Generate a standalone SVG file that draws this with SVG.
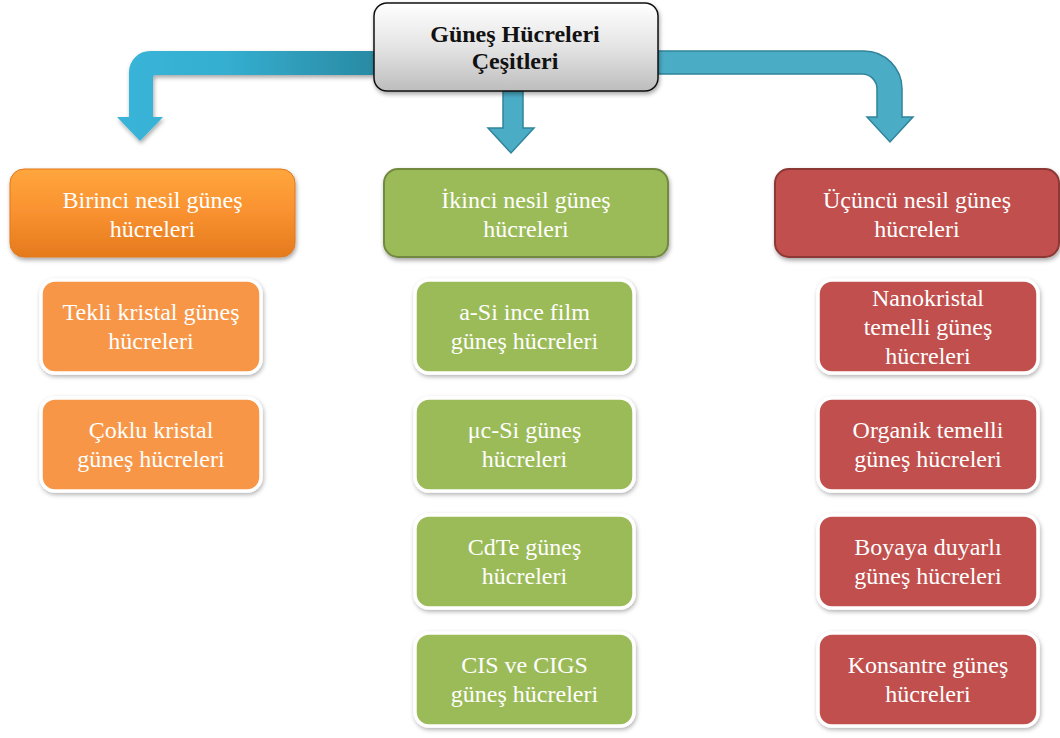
<svg xmlns="http://www.w3.org/2000/svg" width="1060" height="738" viewBox="0 0 1060 738">
<defs>
<linearGradient id="gTop" x1="0" y1="0" x2="0" y2="1">
<stop offset="0" stop-color="#ffffff"/>
<stop offset="0.5" stop-color="#e4e4e4"/>
<stop offset="1" stop-color="#bdbdbd"/>
</linearGradient>
<linearGradient id="gOrange" x1="0" y1="0" x2="0" y2="1">
<stop offset="0" stop-color="#ffa63c"/>
<stop offset="0.5" stop-color="#f99130"/>
<stop offset="1" stop-color="#e47a1c"/>
</linearGradient>
<linearGradient id="gLeft" x1="129" y1="0" x2="374" y2="0" gradientUnits="userSpaceOnUse">
<stop offset="0" stop-color="#38b4d8"/>
<stop offset="0.4" stop-color="#34aed0"/>
<stop offset="1" stop-color="#2a8aa3"/>
</linearGradient>
<filter id="sh" x="-10%" y="-10%" width="125%" height="130%">
<feDropShadow dx="1" dy="2.5" stdDeviation="2" flood-color="#000" flood-opacity="0.35"/>
</filter>
<filter id="shc" x="-10%" y="-10%" width="125%" height="130%">
<feDropShadow dx="1" dy="2" stdDeviation="2" flood-color="#000" flood-opacity="0.3"/>
</filter>
</defs>
<style>
.t{font-family:"Liberation Serif","Times New Roman",serif;font-size:24px;fill:#ffffff;text-anchor:middle}
.tb{font-family:"Liberation Serif","Times New Roman",serif;font-size:24px;font-weight:bold;fill:#111111;text-anchor:middle}
.co{fill:#f79646;stroke:#ffffff;stroke-width:3.5}
.cg{fill:#9bbb59;stroke:#ffffff;stroke-width:3.5}
.cr{fill:#c0504d;stroke:#ffffff;stroke-width:3.5}
.arr{fill:#4bacc6;stroke:#31849b;stroke-width:1.5}
</style>
<rect width="1060" height="738" fill="#ffffff"/>

<g id="connectors">
<path d="M374,51 L150,51 A21,21 0 0 0 129,72 L129,117 L117,117 L140,141 L163,117 L153,117 L153,78 A3,3 0 0 1 156,75 L374,75 Z" fill="url(#gLeft)" filter="url(#sh)"/>
<path class="arr" d="M503,91 L523,91 L523,128 L534,128 L511,153 L488,128 L503,128 Z"/>
<path class="arr" d="M650,51 L864,51 A38,38 0 0 1 902,89 L902,117 L913,117 L890,142 L867,117 L877,117 L877,89 A15,15 0 0 0 862,74 L650,74 Z"/>
</g>

<g id="root">
<rect x="374" y="3" width="284" height="88" rx="13" fill="url(#gTop)" stroke="#111111" stroke-width="1.5" filter="url(#sh)"/>
<text class="tb" x="515" y="42">Güneş Hücreleri</text>
<text class="tb" x="515" y="69">Çeşitleri</text>
</g>

<g id="gen1">
<rect x="10" y="169" width="285" height="88" rx="14" fill="url(#gOrange)" stroke="#e0781c" stroke-width="1" filter="url(#sh)"/>
<text class="t" x="152.5" y="208">Birinci nesil güneş</text>
<text class="t" x="152.5" y="237">hücreleri</text>
</g>
<g id="gen2">
<rect x="384" y="169" width="284" height="88" rx="14" fill="#9bbb59" stroke="#71893f" stroke-width="2" filter="url(#sh)"/>
<text class="t" x="526" y="208">İkinci nesil güneş</text>
<text class="t" x="526" y="237">hücreleri</text>
</g>
<g id="gen3">
<rect x="775" y="169" width="284" height="88" rx="14" fill="#c0504d" stroke="#8c3836" stroke-width="2" filter="url(#sh)"/>
<text class="t" x="917" y="208">Üçüncü nesil güneş</text>
<text class="t" x="917" y="237">hücreleri</text>
</g>

<g id="o1">
<rect class="co" x="41" y="280" width="220" height="93" rx="14" filter="url(#shc)"/>
<text class="t" x="151" y="320">Tekli kristal güneş</text>
<text class="t" x="151" y="349">hücreleri</text>
</g>
<g id="o2">
<rect class="co" x="41" y="398" width="220" height="93" rx="14" filter="url(#shc)"/>
<text class="t" x="151" y="438">Çoklu kristal</text>
<text class="t" x="151" y="467">güneş hücreleri</text>
</g>

<g id="g1">
<rect class="cg" x="415" y="280" width="219" height="93" rx="14" filter="url(#shc)"/>
<text class="t" x="524.5" y="320">a-Si ince film</text>
<text class="t" x="524.5" y="349">güneş hücreleri</text>
</g>
<g id="g2">
<rect class="cg" x="415" y="398" width="219" height="93" rx="14" filter="url(#shc)"/>
<text class="t" x="524.5" y="438">μc-Si güneş</text>
<text class="t" x="524.5" y="467">hücreleri</text>
</g>
<g id="g3">
<rect class="cg" x="415" y="515" width="219" height="93" rx="14" filter="url(#shc)"/>
<text class="t" x="524.5" y="555">CdTe güneş</text>
<text class="t" x="524.5" y="584">hücreleri</text>
</g>
<g id="g4">
<rect class="cg" x="415" y="633" width="219" height="93" rx="14" filter="url(#shc)"/>
<text class="t" x="524.5" y="673">CIS ve CIGS</text>
<text class="t" x="524.5" y="702">güneş hücreleri</text>
</g>

<g id="r1">
<rect class="cr" x="818" y="280" width="220" height="93" rx="14" filter="url(#shc)"/>
<text class="t" x="928" y="306">Nanokristal</text>
<text class="t" x="928" y="335">temelli güneş</text>
<text class="t" x="928" y="364">hücreleri</text>
</g>
<g id="r2">
<rect class="cr" x="818" y="398" width="220" height="93" rx="14" filter="url(#shc)"/>
<text class="t" x="928" y="438">Organik temelli</text>
<text class="t" x="928" y="467">güneş hücreleri</text>
</g>
<g id="r3">
<rect class="cr" x="818" y="515" width="220" height="93" rx="14" filter="url(#shc)"/>
<text class="t" x="928" y="555">Boyaya duyarlı</text>
<text class="t" x="928" y="584">güneş hücreleri</text>
</g>
<g id="r4">
<rect class="cr" x="818" y="633" width="220" height="93" rx="14" filter="url(#shc)"/>
<text class="t" x="928" y="673">Konsantre güneş</text>
<text class="t" x="928" y="702">hücreleri</text>
</g>
</svg>
